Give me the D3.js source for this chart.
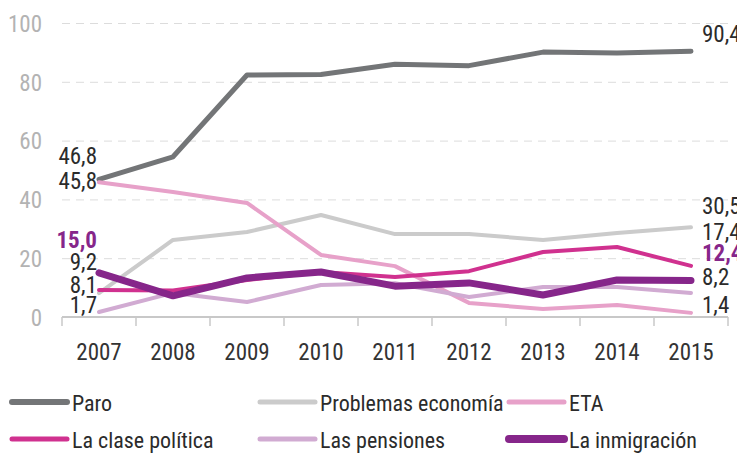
<!DOCTYPE html>
<html>
<head>
<meta charset="utf-8">
<script src="https://cdn.jsdelivr.net/npm/d3@7"></script>
<style>
    body { margin: 0; background: #fff; }
    svg { display: block; font-family: "Roboto Condensed", "Roboto", sans-serif; font-stretch: condensed; }
    .grid line { stroke: #dcdcdc; stroke-width: 1; stroke-dasharray: 8 6; }
    .grid text { fill: #b3b3b3; font-size: 23px; font-family: "Roboto Condensed", "Roboto", sans-serif; }
    .xaxis text { fill: #333; font-size: 23px; font-family: "Roboto Condensed", "Roboto", sans-serif; }
</style>
</head>
<body>
<script>
var years = ["2007", "2008", "2009", "2010", "2011", "2012", "2013", "2014", "2015"];
var yTicks = [0, 20, 40, 60, 80, 100];

var paro = [46.8, 54.5, 82.3, 82.5, 86.0, 85.5, 90.1, 89.8, 90.4];
var economia = [8.1, 26.2, 28.9, 34.7, 28.2, 28.2, 26.2, 28.6, 30.5];
var eta = [45.8, 42.5, 38.8, 21.1, 17.3, 4.8, 2.7, 4.1, 1.4];
var clasePolitica = [9.2, 9.0, 12.6, 15.3, 13.6, 15.6, 22.1, 23.8, 17.4];
var pensiones = [1.7, 8.2, 5.1, 10.9, 11.5, 6.8, 10.2, 10.2, 8.2];
var inmigracion = [15.0, 7.2, 13.3, 15.3, 10.5, 11.6, 7.5, 12.6, 12.4];

var seriesNames = ["Paro", "Problemas economía", "ETA", "La clase política", "Las pensiones", "La inmigración"];

window.onload = function() {
    setChart();
};

function setChart() {
    var width = 737,
        height = 455;

    var svg = d3.select("body")
        .append("svg")
        .attr("width", width)
        .attr("height", height);

    var x = d3.scaleBand()
        .domain(years)
        .range([62, 728]);

    var y = d3.scaleLinear()
        .domain([0, 100])
        .range([317, 23]);

    var cx = function(d, i) { return x(years[i]) + x.bandwidth() / 2; };

    // grid + y labels
    var grid = svg.append("g")
        .attr("class", "grid")
        .attr("transform", "translate(62,0)")
        .call(d3.axisLeft(y).tickValues(yTicks).tickSize(-666).tickPadding(20));
    grid.select(".domain").remove();
    grid.selectAll("text").attr("dy", "0.36em");

    // x axis
    var xaxis = svg.append("g")
        .attr("class", "xaxis")
        .attr("transform", "translate(0,317)")
        .call(d3.axisBottom(x).tickSize(0).tickPadding(27));
    xaxis.select(".domain").remove();

    svg.append("line")
        .attr("x1", x.range()[0]).attr("x2", x.range()[1])
        .attr("y1", y(0)).attr("y2", y(0))
        .attr("stroke", "#c8c8c8").attr("stroke-width", 2);

    var edges = years.map(function(d) { return x(d); }).concat([x.range()[1]]);
    svg.selectAll(".xtick")
        .data(edges)
        .enter()
        .append("line")
        .attr("class", "xtick")
        .attr("x1", function(d) { return d; })
        .attr("x2", function(d) { return d; })
        .attr("y1", y(0))
        .attr("y2", y(0) + 9)
        .attr("stroke", "#c8c8c8")
        .attr("stroke-width", 1.5);

    var series = [
        { name: seriesNames[1], values: economia, color: "#cbcbcb", w: 4 },
        { name: seriesNames[0], values: paro, color: "#737577", w: 5 },
        { name: seriesNames[2], values: eta, color: "#e7a1c9", w: 4 },
        { name: seriesNames[4], values: pensiones, color: "#d1abd2", w: 4 },
        { name: seriesNames[3], values: clasePolitica, color: "#d0318f", w: 4 },
        { name: seriesNames[5], values: inmigracion, color: "#86268a", w: 7 }
    ];

    var line = d3.line()
        .x(cx)
        .y(function(d) { return y(d); });

    svg.selectAll(".serie")
        .data(series)
        .enter()
        .append("path")
        .attr("class", "serie")
        .attr("d", function(d) { return line(d.values); })
        .attr("fill", "none")
        .attr("stroke", function(d) { return d.color; })
        .attr("stroke-width", function(d) { return d.w; })
        .attr("stroke-linecap", "round")
        .attr("stroke-linejoin", "round");

    // value labels (dy = nudge in px so they don't overlap)
    var fmt = function(v) { return d3.format(".1f")(v).replace(".", ","); };
    var labels = [
        { values: paro, i: 0, dy: -24 },
        { values: eta, i: 0, dy: -2 },
        { values: inmigracion, i: 0, dy: -33, bold: true },
        { values: clasePolitica, i: 0, dy: -28 },
        { values: economia, i: 0, dy: -8 },
        { values: pensiones, i: 0, dy: -7 },
        { values: paro, i: 8, dy: -18 },
        { values: economia, i: 8, dy: -22 },
        { values: clasePolitica, i: 8, dy: -34 },
        { values: inmigracion, i: 8, dy: -28, bold: true },
        { values: pensiones, i: 8, dy: -16 },
        { values: eta, i: 8, dy: -8 }
    ];

    svg.selectAll(".vlabel")
        .data(labels)
        .enter()
        .append("text")
        .attr("class", "vlabel")
        .attr("x", function(d) { return d.i == 0 ? cx(null, 0) - 2 : cx(null, 8) + 11; })
        .attr("y", function(d) { return y(d.values[d.i]) + d.dy; })
        .attr("dy", "0.36em")
        .attr("text-anchor", function(d) { return d.i == 0 ? "end" : "start"; })
        .attr("font-size", "23px")
        .attr("font-weight", function(d) { return d.bold ? "bold" : "normal"; })
        .attr("fill", function(d) { return d.bold ? "#86268a" : "#2b2b2b"; })
        .text(function(d) { return fmt(d.values[d.i]); });

    // legend
    var legendOrder = [1, 0, 2, 4, 3, 5];
    var cols = [10, 258, 507],
        rows = [403, 440];
    var legend = svg.selectAll(".legend")
        .data(legendOrder.map(function(k) { return series[k]; }))
        .enter()
        .append("g")
        .attr("class", "legend")
        .attr("transform", function(d, i) {
            return "translate(" + cols[i % 3] + "," + rows[Math.floor(i / 3)] + ")";
        });

    legend.append("line")
        .attr("x1", 2).attr("x2", 57)
        .attr("y1", -1).attr("y2", -1)
        .attr("stroke", function(d) { return d.color; })
        .attr("stroke-width", function(d) { return d.w + 1; })
        .attr("stroke-linecap", "round");

    legend.append("text")
        .attr("x", 62)
        .attr("y", 0)
        .attr("dy", "0.36em")
        .attr("font-size", "22px")
        .attr("fill", "#2b2b2b")
        .text(function(d) { return d.name; });
}
</script>
</body>
</html>
